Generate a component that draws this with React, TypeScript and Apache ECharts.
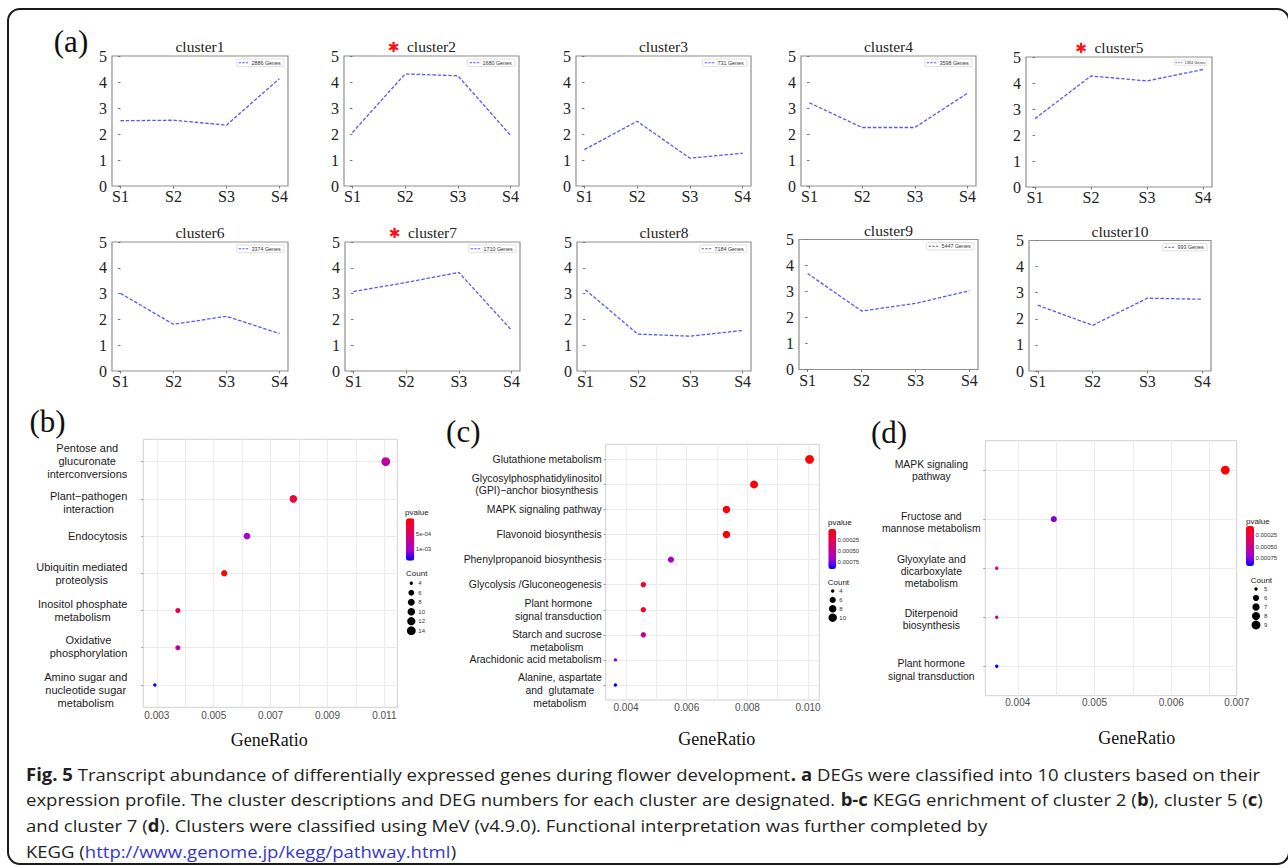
import React, { useEffect, useRef } from 'react';
import * as echarts from 'echarts';

// ---------------- Panel (a): expression profiles ----------------
const stages = ['S1', 'S2', 'S3', 'S4'];
const clusterNames = ['cluster1', 'cluster2', 'cluster3', 'cluster4', 'cluster5', 'cluster6', 'cluster7', 'cluster8', 'cluster9', 'cluster10'];
const clusterGenes = [2886, 1680, 731, 3598, 1384, 3374, 1710, 7184, 5447, 993];
const starredClusters = ['cluster2', 'cluster5', 'cluster7'];
const cluster1 = [2.51, 2.53, 2.34, 4.13];
const cluster2 = [2.06, 4.31, 4.24, 1.95];
const cluster3 = [1.4, 2.49, 1.07, 1.26];
const cluster4 = [3.2, 2.25, 2.25, 3.57];
const cluster5 = [2.63, 4.27, 4.08, 4.52];
const cluster6 = [3.01, 1.81, 2.12, 1.45];
const cluster7 = [3.08, 3.43, 3.82, 1.58];
const cluster8 = [3.15, 1.43, 1.35, 1.57];
const cluster9 = [3.69, 2.25, 2.54, 3.03];
const cluster10 = [2.52, 1.75, 2.79, 2.75];
const clusterValues = [cluster1, cluster2, cluster3, cluster4, cluster5, cluster6, cluster7, cluster8, cluster9, cluster10];

// ---------------- Panel (b): KEGG cluster 2 ----------------
const bTerms = ['Pentose and\nglucuronate\ninterconversions', 'Plant\u2212pathogen\ninteraction', 'Endocytosis', 'Ubiquitin mediated\nproteolysis', 'Inositol phosphate\nmetabolism', 'Oxidative\nphosphorylation', 'Amino sugar and\nnucleotide sugar\nmetabolism'];
const bRatio = [0.01105, 0.0078, 0.00617, 0.00537, 0.00374, 0.00374, 0.00293];
const bCount = [14, 10, 8, 7, 5, 5, 4];
const bP = [8.2e-4, 2.8e-4, 1.02e-3, 1e-5, 3.1e-4, 8.2e-4, 1.36e-3];
const bXLabels = [0.003, 0.005, 0.007, 0.009, 0.011];
const bXGrid = [0.003, 0.004, 0.005, 0.006, 0.007, 0.008, 0.009, 0.01, 0.011];
const bPRange = [1e-5, 1.36e-3];
const bPBreaks = [5e-4, 1e-3];
const bPLabels = ['5e-04', '1e-03'];
const bCountBreaks = [4, 6, 8, 10, 12, 14];

// ---------------- Panel (c): KEGG cluster 5 ----------------
const cTerms = ['Glutathione metabolism', 'Glycosylphosphatidylinositol\n(GPI)\u2212anchor biosynthesis', 'MAPK signaling pathway', 'Flavonoid biosynthesis', 'Phenylpropanoid biosynthesis', 'Glycolysis /Gluconeogenesis', 'Plant hormone\nsignal transduction', 'Starch and sucrose\nmetabolism', 'Arachidonic acid metabolism', 'Alanine, aspartate\nand  glutamate\nmetabolism'];
const cRatio = [0.01005, 0.00822, 0.00731, 0.00731, 0.00548, 0.00457, 0.00457, 0.00457, 0.00365, 0.00365];
const cCount = [11, 9, 8, 8, 6, 5, 5, 5, 4, 4];
const cP = [1.33e-5, 3e-5, 4e-5, 5e-5, 6.3e-4, 1e-4, 1.1e-4, 5e-4, 7.2e-4, 8.98e-4];
const cXLabels = [0.004, 0.006, 0.008, 0.01];
const cXGrid = [0.004, 0.005, 0.006, 0.007, 0.008, 0.009, 0.01];
const cPRange = [1.33e-5, 8.98e-4];
const cPBreaks = [2.5e-4, 5e-4, 7.5e-4];
const cPLabels = ['0.00025', '0.00050', '0.00075'];
const cCountBreaks = [4, 6, 8, 10];

// ---------------- Panel (d): KEGG cluster 7 ----------------
const dTerms = ['MAPK signaling\npathway', 'Fructose and\nmannose metabolism', 'Glyoxylate and\ndicarboxylate\nmetabolism', 'Diterpenoid\nbiosynthesis', 'Plant hormone\nsignal transduction'];
const dRatio = [0.006704, 0.00447, 0.003726, 0.003726, 0.003726];
const dCount = [9, 6, 5, 5, 5];
const dP = [4.24e-5, 7.6e-4, 4.9e-4, 4.9e-4, 9.35e-4];
const dXLabels = [0.004, 0.005, 0.006, 0.007];
const dXGrid = [0.004, 0.0045, 0.005, 0.0055, 0.006, 0.0065];
const dPRange = [4.24e-5, 9.35e-4];
const dPBreaks = [2.5e-4, 5e-4, 7.5e-4];
const dPLabels = ['0.00025', '0.00050', '0.00075'];
const dCountBreaks = [5, 6, 7, 8, 9];

// ---------------- Caption ----------------
const captionLines = [
  '{b|Fig. 5} Transcript abundance of differentially expressed genes during flower development{b|. a} DEGs were classified into 10 clusters based on their',
  'expression profile. The cluster descriptions and DEG numbers for each cluster are designated. {b|b-c} KEGG enrichment of cluster 2 ({b|b}), cluster 5 ({b|c})',
  'and cluster 7 ({b|d}). Clusters were classified using MeV (v4.9.0). Functional interpretation was further completed by',
  'KEGG ({l|http://www.genome.jp/kegg/pathway.html})',
];

// ---------------- Layout & style ----------------
const W = 1288;
const H = 868;
const serif = "'Liberation Serif', 'DejaVu Serif', serif";
const sans = "'Liberation Sans', Arial, sans-serif";
const capFont = "'Open Sans', 'Noto Sans', sans-serif";
const lineBlue = '#5757ff';
const pColors = ['#ff0000', '#e7004f', '#c90088', '#a600cd', '#0000ff'];
const D_MIN = 3.4;
const D_MAX = 8.8;
const EXPAND = 0.6; // discrete-axis expansion (in category steps)
const clusterBoxes = [
  [112, 56, 176, 130], [344, 56, 175, 130], [576, 56, 175, 130], [801, 56, 175, 130], [1026, 57, 186, 130],
  [112, 242, 176, 129], [345, 242, 175, 129], [577, 242, 174, 129], [799, 239.5, 179, 130], [1029, 240.5, 182, 130.5],
];
const legendScale = [1, 1, 1, 1, 0.72, 1, 1, 1, 1, 1];
// vertical nudges (px) of the term labels, as placed in the figure
const bLabelShift = [-1, 3.5, 0, 0, 0, -1, 5.3];
const cLabelShift = [0, 0, 0, 0, 0, 0, 0, 6.5, 0, 5.7];
const dLabelShift = [0.5, 3.2, 3.3, 2.2, 3.7];

const panels = [
  {
    letter: '(b)', letterPos: [47.5, 421], terms: bTerms, ratio: bRatio, count: bCount, p: bP,
    xLabels: bXLabels, xGrid: bXGrid, pRange: bPRange, pBreaks: bPBreaks, pLabels: bPLabels, countBreaks: bCountBreaks,
    box: [143.3, 439.3, 254, 268], xLabelMargin: 3, shift: bLabelShift,
    yLabel: { align: 'right', margin: 16, fontSize: 11, lineHeight: 13 },
    bar: [406, 518.3, 8.3, 42.4], pTitle: [405, 512],
    cnt: { title: [406, 573.7], dotX: 411.3, firstY: 583.3, step: 9.48, labelX: 418.3 },
    geneRatio: [269.3, 740],
  },
  {
    letter: '(c)', letterPos: [463.3, 431], terms: cTerms, ratio: cRatio, count: cCount, p: cP,
    xLabels: cXLabels, xGrid: cXGrid, pRange: cPRange, pBreaks: cPBreaks, pLabels: cPLabels, countBreaks: cCountBreaks,
    box: [605.7, 444.3, 213.6, 255.7], xLabelMargin: 2, shift: cLabelShift,
    yLabel: { align: 'right', margin: 4, fontSize: 10.4, lineHeight: 12.7 },
    bar: [828.3, 529, 7.7, 40], pTitle: [828, 522.3],
    cnt: { title: [827.7, 582], dotX: 832.7, firstY: 591, step: 8.9, labelX: 839.3 },
    geneRatio: [716.7, 739.3],
  },
  {
    letter: '(d)', letterPos: [889, 432], terms: dTerms, ratio: dRatio, count: dCount, p: dP,
    xLabels: dXLabels, xGrid: dXGrid, pRange: dPRange, pBreaks: dPBreaks, pLabels: dPLabels, countBreaks: dCountBreaks,
    box: [985.3, 440.7, 251.4, 255], xLabelMargin: 2, shift: dLabelShift,
    yLabel: { align: 'center', margin: 54, fontSize: 10.4, lineHeight: 12.4 },
    bar: [1246, 526, 8, 40], pTitle: [1246, 521.3],
    cnt: { title: [1250.7, 580.7], dotX: 1256, firstY: 589, step: 9, labelX: 1264 },
    geneRatio: [1136.7, 738.3],
  },
];

function txt(x: number, y: number, text: string, style: any, extra: any = {}) {
  return {
    type: 'text', x, y, silent: true, z: 50, ...extra,
    style: { text, verticalAlign: 'middle', align: 'left', fill: '#1a1a1a', ...style },
  };
}

let measureCtx: CanvasRenderingContext2D | null = null;
function textWidth(s: string, font: string) {
  if (!measureCtx) measureCtx = document.createElement('canvas').getContext('2d');
  if (!measureCtx) return s.length * 3;
  measureCtx.font = font;
  return measureCtx.measureText(s).width;
}

function buildOption() {
  const grid: any[] = [];
  const xAxis: any[] = [];
  const yAxis: any[] = [];
  const series: any[] = [];
  const visualMap: any[] = [];
  const graphic: any[] = [];

  // outer frame
  graphic.push({
    type: 'rect', silent: true, z: 100,
    shape: { x: 8, y: 9, width: 1281, height: 855, r: 12 },
    style: { fill: 'none', stroke: '#1a1a1a', lineWidth: 2 },
  });
  graphic.push(txt(71, 41, '(a)', { fontSize: 31, fontFamily: serif, align: 'center', fill: '#111' }));

  const stageIdx = stages.map((_, k) => k);
  const legFont = 5.4;

  clusterNames.forEach((name, i) => {
    const [l, t, w, h] = clusterBoxes[i];
    const gi = grid.length;
    grid.push({ left: l, top: t, width: w, height: h, show: true, borderColor: '#8f8f8f', borderWidth: 1.2, backgroundColor: '#fff', outerBoundsMode: 'none', containLabel: false });
    xAxis.push({
      gridIndex: gi, type: 'value', min: -0.16, max: 3.16,
      axisLine: { show: false }, splitLine: { show: false },
      axisTick: { show: true, customValues: stageIdx, length: 2.5, lineStyle: { color: '#777' } },
      axisLabel: { customValues: stageIdx, formatter: (v: number) => stages[Math.round(v)], fontFamily: serif, fontSize: 16, color: '#222', margin: 2.5, hideOverlap: false },
    });
    yAxis.push({
      gridIndex: gi, type: 'value', min: 0, max: 5, interval: 1,
      axisLine: { show: false }, splitLine: { show: false },
      axisTick: { show: true, length: 2.5, lineStyle: { color: '#777' } },
      axisLabel: { fontFamily: serif, fontSize: 16, color: '#222', margin: 5, hideOverlap: false },
    });
    const sname = `${clusterGenes[i]} Genes`;
    series.push({
      type: 'line', name: sname, xAxisIndex: gi, yAxisIndex: gi, silent: true,
      data: stages.map((_, k) => [k, clusterValues[i][k]]),
      symbol: 'none',
      lineStyle: { color: lineBlue, width: 1.3, type: [3.5, 1.8] },
      itemStyle: { color: lineBlue },
    });

    // matplotlib-style legend box in the upper-right corner
    const tw = textWidth(sname, `${legFont}px 'Liberation Sans'`);
    const bw = tw + 18;
    const bh = 7.4;
    graphic.push({
      type: 'group', x: l + w - 4, y: t + 3, scaleX: legendScale[i], scaleY: legendScale[i], silent: true, z: 60,
      children: [
        { type: 'rect', shape: { x: -bw, y: 0, width: bw, height: bh, r: 1 }, style: { fill: '#fff', stroke: '#d2d2d2', lineWidth: 0.7 } },
        { type: 'line', shape: { x1: -bw + 2, y1: bh / 2, x2: -bw + 12.5, y2: bh / 2 }, style: { stroke: lineBlue, lineWidth: 1.1, lineDash: [2.4, 1.2] } },
        { type: 'text', x: -bw + 14.8, y: bh / 2 + 0.2, style: { text: sname, fontSize: legFont, fontFamily: sans, fill: '#333', verticalAlign: 'middle', align: 'left' } },
      ],
    });

    const cx = l + w / 2;
    const ty = t - 9.5;
    graphic.push(txt(cx, ty, name, { fontSize: 15.5, fontFamily: serif, align: 'center', fill: '#222' }));
    if (starredClusters.includes(name)) {
      graphic.push(txt(cx - 38, ty, '\u2731', { fontSize: 14, fontFamily: "'DejaVu Sans', sans-serif", align: 'center', fill: '#ff1010' }));
    }
  });

  const dotSeries: number[] = [];

  panels.forEach((P) => {
    const [l, t, w, h] = P.box;
    const n = P.terms.length;
    const idx = P.terms.map((_, i) => i);
    const lo = Math.min(...P.ratio);
    const hi = Math.max(...P.ratio);
    const pad = (hi - lo) * 0.05;
    const xmin = lo - pad;
    const xmax = hi + pad;
    const cmin = Math.min(...P.count);
    const cmax = Math.max(...P.count);
    const sizeOf = (c: number) => D_MIN + Math.sqrt(Math.max(0, (c - cmin) / (cmax - cmin))) * (D_MAX - D_MIN);

    // main dot plot
    const gi = grid.length;
    grid.push({ left: l, top: t, width: w, height: h, show: true, borderColor: '#d0d0d0', borderWidth: 1, backgroundColor: '#fff', outerBoundsMode: 'none', containLabel: false });
    xAxis.push({
      gridIndex: gi, type: 'value', min: xmin, max: xmax,
      axisLine: { show: false },
      axisTick: { show: false, customValues: P.xGrid },
      splitLine: { show: true, lineStyle: { color: '#ebebeb', width: 1 } },
      axisLabel: {
        customValues: P.xLabels.map((v) => Math.min(v, xmax)),
        formatter: (v: number) => v.toFixed(3),
        fontFamily: sans, fontSize: 10, color: '#4d4d4d', margin: P.xLabelMargin, hideOverlap: false,
      },
    });
    yAxis.push({
      gridIndex: gi, type: 'value', min: -EXPAND, max: n - 1 + EXPAND, inverse: true,
      axisLine: { show: false },
      axisTick: { show: true, length: 2, customValues: idx, lineStyle: { color: '#9a9a9a' } },
      splitLine: { show: true, lineStyle: { color: '#ebebeb', width: 1 } },
      axisLabel: { show: false },
    });
    series.push({
      type: 'scatter', xAxisIndex: gi, yAxisIndex: gi, silent: true,
      data: P.terms.map((_, i) => [P.ratio[i], i, P.count[i], P.p[i]]),
      symbolSize: (v: number[]) => sizeOf(v[2]),
      itemStyle: { opacity: 1 },
    });
    dotSeries.push(series.length - 1);

    // term labels on a category axis laid over the same rows (all labels kept)
    const step = h / (n - 1 + 2 * EXPAND);
    const yl = P.yLabel;
    const rich: any = {
      t: { align: 'center', fontFamily: sans, fontSize: yl.fontSize, lineHeight: yl.lineHeight, color: '#1a1a1a' },
    };
    P.shift.forEach((sh, k) => {
      if (sh) rich[`s${k}`] = { fontSize: 1, lineHeight: Math.abs(sh) * 2, align: 'center' };
    });
    const tgi = grid.length;
    grid.push({ left: l, top: t + (EXPAND - 0.5) * step, width: w, height: n * step, show: false, outerBoundsMode: 'none', containLabel: false });
    xAxis.push({ gridIndex: tgi, type: 'value', show: false, min: 0, max: 1 });
    yAxis.push({
      gridIndex: tgi, type: 'category', data: P.terms, inverse: true, boundaryGap: true,
      axisLine: { show: false }, axisTick: { show: false }, splitLine: { show: false },
      axisLabel: {
        interval: 0, align: yl.align, margin: yl.margin, fontFamily: sans, fontSize: yl.fontSize,
        lineHeight: yl.lineHeight, color: '#1a1a1a', hideOverlap: false,
        formatter: (_v: string, k: number) => {
          const lines = P.terms[k].split('\n').map((s) => `{t|${s}}`);
          const sh = P.shift[k] || 0;
          if (sh > 0) lines.unshift(`{s${k}| }`);
          if (sh < 0) lines.push(`{s${k}| }`);
          return lines.join('\n');
        },
        rich,
      },
    });

    const [bx, by, bw, bh] = P.bar;
    visualMap.push({
      type: 'continuous', seriesIndex: series.length - 1, dimension: 3,
      min: P.pRange[0], max: P.pRange[1], inverse: true, orient: 'vertical',
      left: bx, top: by, itemWidth: bw, itemHeight: bh, padding: 0,
      calculable: false, hoverLink: false, realtime: false,
      inRange: { color: pColors },
    });

    // colour-bar tick labels
    const cgi = grid.length;
    grid.push({ left: bx, top: by, width: bw, height: bh, show: false, outerBoundsMode: 'none', containLabel: false });
    xAxis.push({ gridIndex: cgi, type: 'value', show: false, min: 0, max: 1 });
    yAxis.push({
      gridIndex: cgi, type: 'value', position: 'right', min: P.pRange[0], max: P.pRange[1], inverse: true,
      axisLine: { show: false }, splitLine: { show: false },
      axisTick: { show: true, inside: true, length: 1.6, customValues: P.pBreaks, lineStyle: { color: '#fff', width: 0.6 } },
      axisLabel: {
        customValues: P.pBreaks,
        formatter: (v: number) => P.pLabels[P.pBreaks.findIndex((b) => Math.abs(b - v) < 1e-12)] ?? '',
        fontFamily: sans, fontSize: 6, color: '#333', margin: 1.5, hideOverlap: false,
      },
    });

    // size legend
    const c = P.cnt;
    const m = P.countBreaks.length;
    const lgi = grid.length;
    grid.push({ left: c.dotX - 5, top: c.firstY - c.step / 2, width: 10, height: m * c.step, show: false, outerBoundsMode: 'none', containLabel: false });
    xAxis.push({ gridIndex: lgi, type: 'value', show: false, min: -1, max: 1 });
    yAxis.push({
      gridIndex: lgi, type: 'category', data: P.countBreaks.map(String), position: 'right', inverse: true, boundaryGap: true,
      axisLine: { show: false }, splitLine: { show: false }, axisTick: { show: false },
      axisLabel: {
        interval: 0, fontFamily: sans, fontSize: 6, color: '#333', margin: c.labelX - (c.dotX + 5), hideOverlap: false,
      },
    });
    series.push({
      type: 'scatter', xAxisIndex: lgi, yAxisIndex: lgi, silent: true,
      data: P.countBreaks.map((cb, i) => [0, i, cb]),
      symbolSize: (v: number[]) => sizeOf(v[2]),
      itemStyle: { color: '#000', opacity: 1 },
    });

    graphic.push(txt(P.pTitle[0], P.pTitle[1], 'pvalue', { fontSize: 8, fontFamily: sans, fill: '#222' }));
    graphic.push(txt(c.title[0], c.title[1], 'Count', { fontSize: 8, fontFamily: sans, fill: '#222' }));
    graphic.push(txt(P.letterPos[0], P.letterPos[1], P.letter, { fontSize: 31, fontFamily: serif, align: 'center', fill: '#111' }));
    graphic.push(txt(P.geneRatio[0], P.geneRatio[1], 'GeneRatio', { fontSize: 18, fontFamily: serif, align: 'center', fill: '#111' }));
  });

  visualMap.forEach((vm, k) => { vm.seriesIndex = dotSeries[k]; });

  const capSize = 17;
  captionLines.forEach((line, i) => {
    graphic.push(txt(26, 774 + i * 25.7, line, {
      fontSize: capSize, fontFamily: capFont, fill: '#231f20',
      rich: {
        b: { fontWeight: 'bold', fontSize: capSize, fontFamily: capFont, fill: '#231f20' },
        l: { fontSize: capSize, fontFamily: capFont, fill: '#3535d0' },
      },
    }, { scaleX: 1.09 }));
  });

  return {
    animation: false,
    backgroundColor: '#ffffff',
    grid, xAxis, yAxis, series, visualMap, graphic,
  };
}

export default function App() {
  const ref = useRef<HTMLDivElement>(null);
  useEffect(() => {
    document.body.style.margin = '0';
    const chart = echarts.init(ref.current as HTMLDivElement, null, { renderer: 'svg' });
    chart.setOption(buildOption() as any);
    return () => chart.dispose();
  }, []);
  return <div ref={ref} style={{ width: W, height: H, background: '#fff' }} />;
}
